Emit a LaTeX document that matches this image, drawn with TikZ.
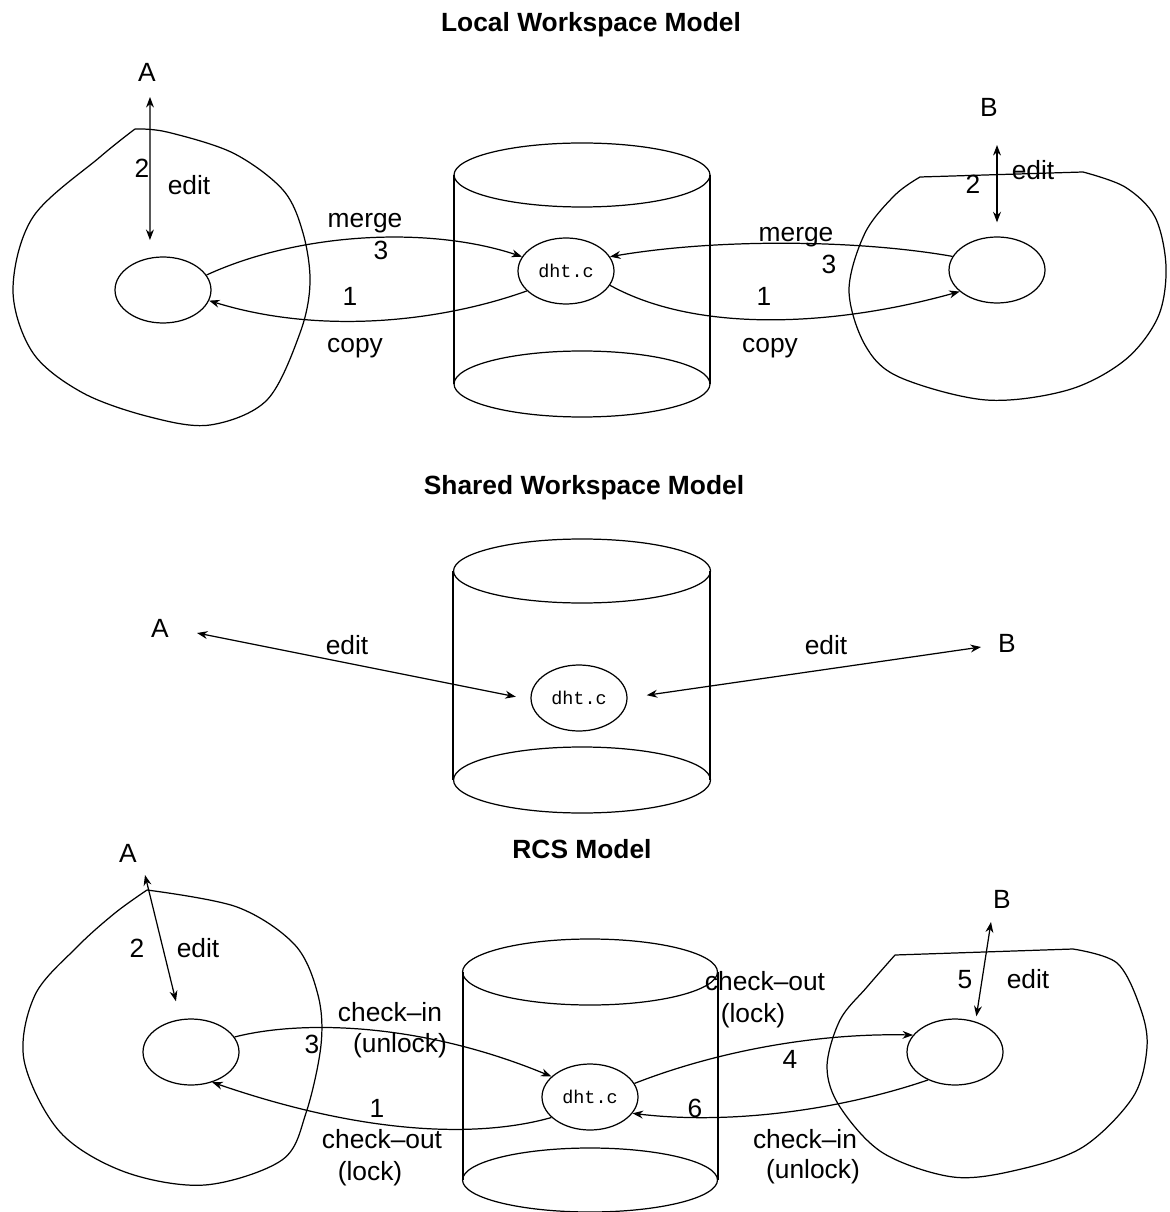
\documentclass[tikz,border=0pt]{standalone}
\usepackage{fontspec}
\setmainfont{Liberation Sans}
\setmonofont{Liberation Mono}
\usetikzlibrary{arrows.meta,shapes.geometric}

\begin{document}
\begin{tikzpicture}[x=0.02cm, y=-0.02cm, line width=0.7pt,
    lbl/.style={anchor=base, inner sep=0pt, font=\fontsize{15}{18}\selectfont},
    ttl/.style={anchor=base, inner sep=0pt, font=\fontsize{15}{18}\selectfont\bfseries},
    ws/.style={draw, ellipse, inner sep=0pt, minimum width=1.92cm, minimum height=1.32cm},
    file/.style={ws, font=\ttfamily\fontsize{10.5}{12}\selectfont},
    flow/.style={-{Stealth[length=6pt,width=4.5pt]}},
    both/.style={{Stealth[length=6pt,width=4.5pt]}-{Stealth[length=6pt,width=4.5pt]}}]
    \useasboundingbox (0,0) rectangle (1169,1212);

    % ---------------- Local Workspace Model ----------------
    \node[ttl] (t1) at (591,32) {Local Workspace Model};

    % Workspaces
    \draw plot[smooth, tension=0.55] coordinates {(135,129) (167,132) (233,153) (283,190) (303,233) (310,283) (300,333) (267,400) (210,425) (150,417) (83,393) (33,353) (13,290) (33,217) (100,157) (135,129)};
    \draw (920,177) -- plot[smooth, tension=0.55] coordinates {(1083,172) (1125,187) (1155,217) (1166,267) (1158,317) (1125,360) (1068,390) (986,400) (899,377) (865,345) (849,290) (865,233) (895,195) (920,177)};

    % Repository
    \draw (582,175) ellipse (2.56cm and 0.64cm);
    \draw (582,384) ellipse (2.56cm and 0.66cm);
    \draw (454,175) -- (454,384);
    \draw (710,175) -- (710,384);

    % Files
    \node[ws] (ea1) at (163,290) {};
    \node[file] (d1) at (566,271) {dht.c};
    \node[ws] (eb1) at (997,270) {};

    % Users and edits
    \node[lbl] (A1) at (147,82) {A};
    \node[lbl] (B1) at (989,117) {B};
    \coordinate (e1a) at (150,97);
    \coordinate (e1b) at (997,145);
    \draw[both, shorten >=10pt] (e1a) -- (ea1.112);
    \draw[both, shorten >=8pt] (e1b) -- (eb1.north);
    \node[lbl] (n2a) at (142,178) {2};
    \node[lbl] (ed1a) at (189,195) {edit};
    \node[lbl] (n2b) at (973,194) {2};
    \node[lbl] (ed1b) at (1033,180) {edit};

    % Merge and copy
    \draw[flow] (ea1.19) .. controls (300,232) and (430,226) .. (d1.162);
    \draw[flow] (d1.207) .. controls (440,322) and (320,335) .. (ea1.-13);
    \draw[flow] (eb1.163) .. controls (860,240) and (720,238) .. (d1.18);
    \draw[flow] (d1.-18) .. controls (700,335) and (840,325) .. (eb1.210);
    \node[lbl] (mg1a) at (365,228) {merge};
    \node[lbl] (n3a) at (381,260) {3};
    \node[lbl] (n1a) at (350,306) {1};
    \node[lbl] (cp1a) at (355,353) {copy};
    \node[lbl] (mg1b) at (796,242) {merge};
    \node[lbl] (n3b) at (829,274) {3};
    \node[lbl] (n1b) at (764,306) {1};
    \node[lbl] (cp1b) at (770,353) {copy};

    % ---------------- Shared Workspace Model ----------------
    \node[ttl] (t2) at (584,494) {Shared Workspace Model};

    % Repository
    \draw (582,571) ellipse (2.57cm and 0.64cm);
    \draw (582,780) ellipse (2.57cm and 0.66cm);
    \draw (453,571) -- (453,780);
    \draw (710,571) -- (710,780);
    \node[file] (d2) at (579,698) {dht.c};

    % Users and edits
    \node[lbl] (A2) at (160,637) {A};
    \node[lbl] (B2) at (1007,652) {B};
    \coordinate (a2e) at (197,633);
    \coordinate (b2e) at (981,647);
    \draw[both, shorten >=8.5pt] (a2e) -- (d2.182);
    \draw[both, shorten >=11pt] (b2e) -- (d2.0);
    \node[lbl] (ed2a) at (347,654) {edit};
    \node[lbl] (ed2b) at (826,654) {edit};

    % ---------------- RCS Model ----------------
    \node[ttl] (t3) at (582,858) {RCS Model};

    % Workspaces
    \draw plot[smooth, tension=0.55] coordinates {(147,890) (237,907) (295,945) (318,995) (321,1045) (306,1113) (282,1160) (205,1185) (125,1172) (60,1132) (24,1060) (35,995) (77,947) (115,913) (147,890)};
    \draw (895,955) -- plot[smooth, tension=0.55] coordinates {(1073,949) (1117,963) (1140,1007) (1147,1047) (1133,1097) (1083,1147) (1017,1170) (953,1177) (883,1153) (840,1107) (827,1067) (840,1020) (867,987) (895,955)};

    % Repository
    \draw (590,972) ellipse (2.55cm and 0.66cm);
    \draw (590,1180) ellipse (2.55cm and 0.64cm);
    \draw (463,972) -- (463,1180);
    \draw (718,972) -- (718,1180);

    % Files
    \node[ws] (ea3) at (191,1052) {};
    \node[file] (d3) at (590,1097) {dht.c};
    \node[ws] (eb3) at (955,1052) {};

    % Users and edits
    \node[lbl] (A3) at (128,862) {A};
    \node[lbl] (B3) at (1002,908) {B};
    \coordinate (e3a) at (145,875);
    \coordinate (e3b) at (991,922);
    \draw[both, shorten >=10.5pt] (e3a) -- (ea3.108);
    \draw[both, shorten >=3pt] (e3b) -- (eb3.56);
    \node[lbl] (n2c) at (137,957) {2};
    \node[lbl] (ed3a) at (198,957) {edit};
    \node[lbl] (n5) at (965,988) {5};
    \node[lbl] (ed3b) at (1028,988) {edit};

    % Check-in and check-out
    \draw[flow] (ea3.19) .. controls (300,1020) and (420,1022) .. (d3.152);
    \draw[flow] (d3.208) .. controls (490,1135) and (380,1140) .. (ea3.-55);
    \draw[flow] (d3.17) .. controls (720,1050) and (820,1033) .. (eb3.158);
    \draw[flow] (eb3.226) .. controls (840,1110) and (730,1125) .. (d3.-21);
    \node[lbl] (n3c) at (312,1053) {3};
    \node[lbl] (ci3a) at (390,1021) {check\textendash in};
    \node[lbl] (ul3a) at (400,1052) {(unlock)};
    \node[lbl] (n1c) at (377,1117) {1};
    \node[lbl] (co3a) at (382,1148) {check\textendash out};
    \node[lbl] (lk3a) at (370,1180) {(lock)};
    \node[lbl] (co3b) at (765,990) {check\textendash out};
    \node[lbl] (lk3b) at (753,1022) {(lock)};
    \node[lbl] (n4) at (790,1068) {4};
    \node[lbl] (n6) at (695,1117) {6};
    \node[lbl] (ci3b) at (805,1148) {check\textendash in};
    \node[lbl] (ul3b) at (813,1178) {(unlock)};
\end{tikzpicture}
\end{document}
